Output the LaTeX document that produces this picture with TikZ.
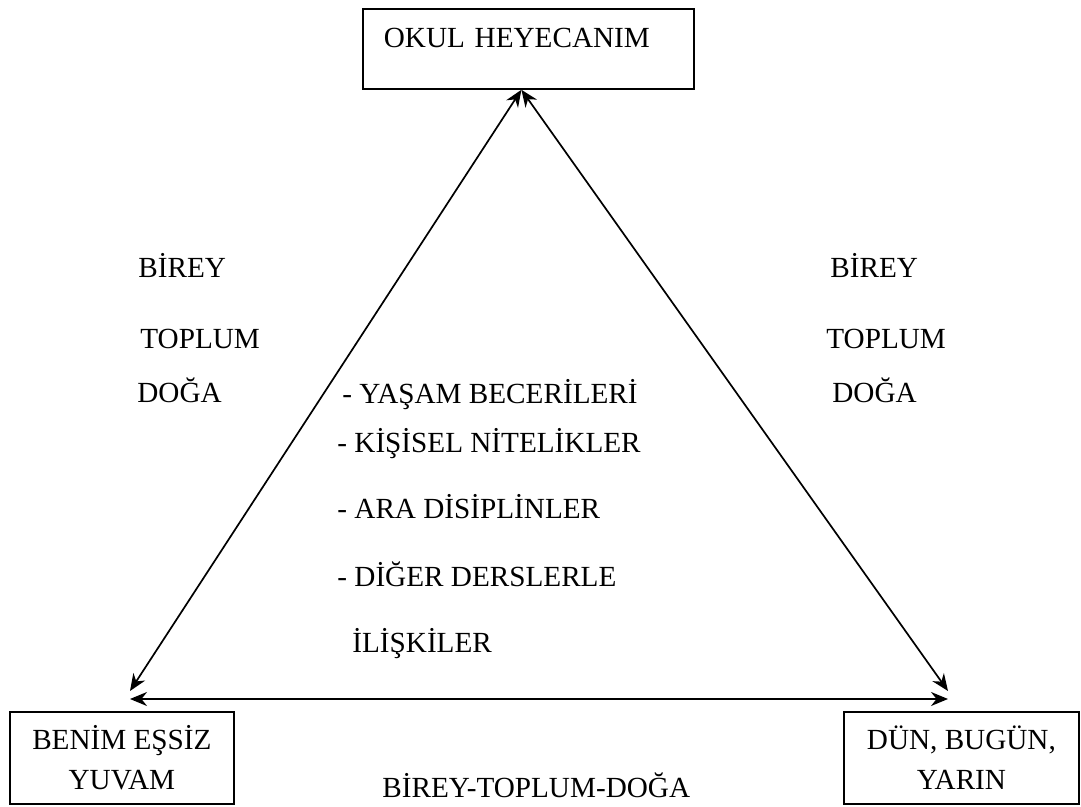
\documentclass[tikz,border=0pt]{standalone}
\usepackage{fontspec}
\setmainfont{Liberation Serif}
\usetikzlibrary{arrows.meta}

\begin{document}
\begin{tikzpicture}[x=0.5pt,y=-0.5pt,
   every node/.style={font=\fontsize{14.6}{20}\selectfont},
   box/.style={draw, line width=0.9pt, inner sep=0pt},
   lbl/.style={anchor=base west, inner sep=0pt},
   arr/.style={line width=0.85pt, {Stealth[length=8.5pt,width=7pt]}-{Stealth[length=8.5pt,width=7pt]}}]
   \useasboundingbox (0,0) rectangle (1081,807);

   \node(OK)[box, anchor=north west, align=left, text width=144.5pt,
     inner xsep=10.5pt, inner ysep=9.5pt, text height=9.7pt, text depth=11.3pt]
     at (362,8) {OKUL HEYECANIM};
   \node(BY)[box, anchor=south west, minimum width=112pt, minimum height=46pt,
     align=center] at (9,805) {BENİM EŞSİZ\\YUVAM};
   \node(DB)[box, anchor=south west, minimum width=117.5pt, minimum height=46pt,
     align=center] at (843,805) {DÜN, BUGÜN,\\YARIN};

   \coordinate(T) at ([xshift=-3.5pt]OK.south);
   \coordinate(L) at (130,691);
   \coordinate(R) at (948,691);
   \coordinate(HL) at (130,699);
   \coordinate(HR) at (948,699);

   \draw[arr] (T) -- (L);
   \draw[arr] (T) -- (R);
   \draw[arr] (HL) -- (HR);

   \node(B1)[lbl] at (138,278) {BİREY};
   \node(T1)[lbl] at (140,349) {TOPLUM};
   \node(D1)[lbl] at (137,402) {DOĞA};
   \node(B2)[lbl] at (830,278) {BİREY};
   \node(T2)[lbl] at (826,349) {TOPLUM};
   \node(D2)[lbl] at (832,402) {DOĞA};

   \node(YB)[lbl] at (342,403) {- YAŞAM BECERİLERİ};
   \node(KN)[lbl] at (337,452) {- KİŞİSEL NİTELİKLER};
   \node(AD)[lbl] at (337,518) {- ARA DİSİPLİNLER};
   \node(DD)[lbl] at (337,586) {- DİĞER DERSLERLE};
   \node(IL)[lbl] at (352,652) {İLİŞKİLER};

   \node(BTD)[lbl] at (382,797) {BİREY-TOPLUM-DOĞA};
  \end{tikzpicture}
\end{document}
